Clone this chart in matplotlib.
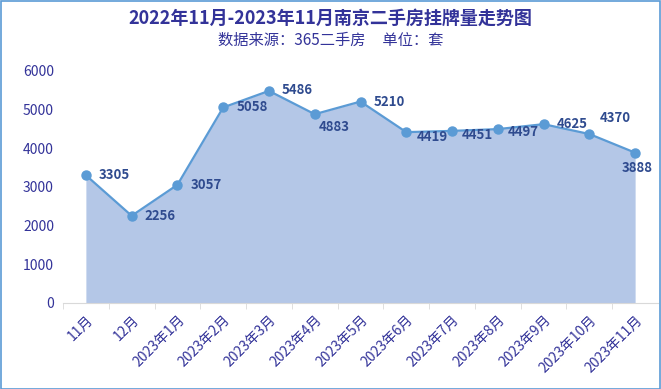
import matplotlib.pyplot as plt
from matplotlib.patches import Rectangle

plt.rcParams['font.family'] = ['Noto Sans CJK SC', 'DejaVu Sans']

months = ['11月', '12月', '2023年1月', '2023年2月', '2023年3月', '2023年4月', '2023年5月',
          '2023年6月', '2023年7月', '2023年8月', '2023年9月', '2023年10月', '2023年11月']
listings = [3305, 2256, 3057, 5058, 5486, 4883, 5210, 4419, 4451, 4497, 4625, 4370, 3888]

# label offsets in pixels (dx, dy, ha)
label_pos = [(13, 0, 'left'), (13, 0, 'left'), (13, 0, 'left'), (13, 0, 'left'),
             (13, 1, 'left'), (4, -13, 'left'), (13, 0, 'left'), (10, -5, 'left'),
             (10, -4, 'left'), (10, -3, 'left'), (13, 0, 'left'), (10, 16, 'left'),
             (2, -15, 'center')]

text_color = '#333399'
fig = plt.figure(figsize=(6.61, 3.89), dpi=100)
ax = fig.add_axes([63 / 661, 1 - 303 / 389, 595 / 661, 232 / 389])

x = list(range(len(months)))
ax.fill_between(x, listings, 0, color='#B4C7E7', lw=0)
ax.plot(x, listings, color='#5B9BD5', lw=1.6, marker='o', ms=6.5, zorder=3)

for i, v in enumerate(listings):
    dx, dy, ha = label_pos[i]
    ax.annotate(str(v), (i, v), xytext=(dx, dy), textcoords='offset pixels',
                ha=ha, va='center', fontsize=9.5, fontweight='bold', color='#2F4B8F',
                zorder=4)

ax.set_xlim(-0.5, 12.5)
ax.set_ylim(0, 6000)
ax.set_yticks(range(0, 6001, 1000))
ax.set_xticks(x)
ax.set_xticklabels(months, rotation=45, ha='right', rotation_mode='anchor',
                   fontsize=10, color=text_color)
ax.set_xticks([i - 0.5 for i in range(13)], minor=True)
ax.tick_params(axis='x', which='major', length=0, pad=7)
ax.tick_params(axis='x', which='minor', length=4, color='#D9D9D9')
ax.tick_params(axis='y', length=0, labelsize=10, labelcolor=text_color, pad=6.5)
for s in ['top', 'right', 'left']:
    ax.spines[s].set_visible(False)
ax.spines['bottom'].set_color('#D9D9D9')

fig.text(0.5, 1 - 18 / 389, '2022年11月-2023年11月南京二手房挂牌量走势图', ha='center', va='center',
         fontsize=13, fontweight='bold', color=text_color)
fig.text(0.5, 1 - 40 / 389, '数据来源：365二手房     单位：套', ha='center', va='center',
         fontsize=11, color=text_color)

fig.patches.append(Rectangle((0.001, 0.001), 0.997, 0.997, transform=fig.transFigure,
                             fill=False, edgecolor='#5B9BD5', lw=1.2))

fig.savefig('out.png', dpi=100)
